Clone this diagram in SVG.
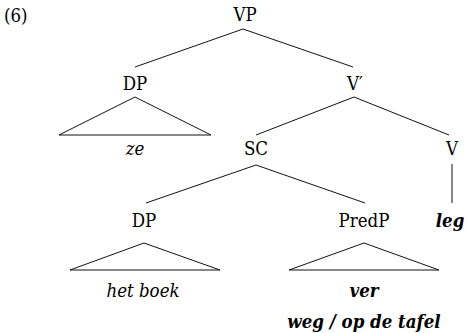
<svg xmlns="http://www.w3.org/2000/svg" width="466" height="333" viewBox="0 0 466 333">
<style>
.t{font-family:'DejaVu Serif Condensed','DejaVu Serif',serif;font-stretch:condensed;font-size:18.5px;fill:#000;text-anchor:middle}
.i{font-style:italic}
.b{font-style:italic;font-weight:bold}
line,polygon{stroke:#111;stroke-width:1;fill:none}
</style>
<rect width="466" height="333" fill="#fff"/>
<g class="t">
<text x="4" y="22" text-anchor="start">(6)</text>
<g id="connectors">
<line x1="243" y1="29" x2="135" y2="67"/>
<line x1="243" y1="29" x2="353" y2="67"/>
<line x1="354" y1="97" x2="256" y2="135"/>
<line x1="354" y1="97" x2="449" y2="135"/>
<line x1="256" y1="165" x2="146" y2="203"/>
<line x1="256" y1="165" x2="365" y2="203"/>
<line x1="452" y1="164" x2="452" y2="203"/>
</g>
<g id="VP"><text x="245" y="21">VP</text></g>
<g id="DP1"><text x="135" y="90">DP</text>
<polygon points="135,97 59,135 211,135"/>
<text class="i" x="135" y="155">ze</text></g>
<g id="Vbar"><text x="355" y="90">V′</text></g>
<g id="SC"><text x="256" y="155">SC</text></g>
<g id="V"><text x="452" y="155">V</text></g>
<g id="leg"><text class="b" x="450" y="227">leg</text></g>
<g id="DP2"><text x="144" y="227">DP</text>
<polygon points="144,243 70,270 220,270"/>
<text class="i" x="143" y="297">het boek</text></g>
<g id="PredP"><text x="364" y="227">PredP</text>
<polygon points="364,243 289,270 439,270"/>
<text class="b" x="364" y="297">ver</text>
<text class="b" x="364" y="328">weg / op de tafel</text></g>
</g>
</svg>
